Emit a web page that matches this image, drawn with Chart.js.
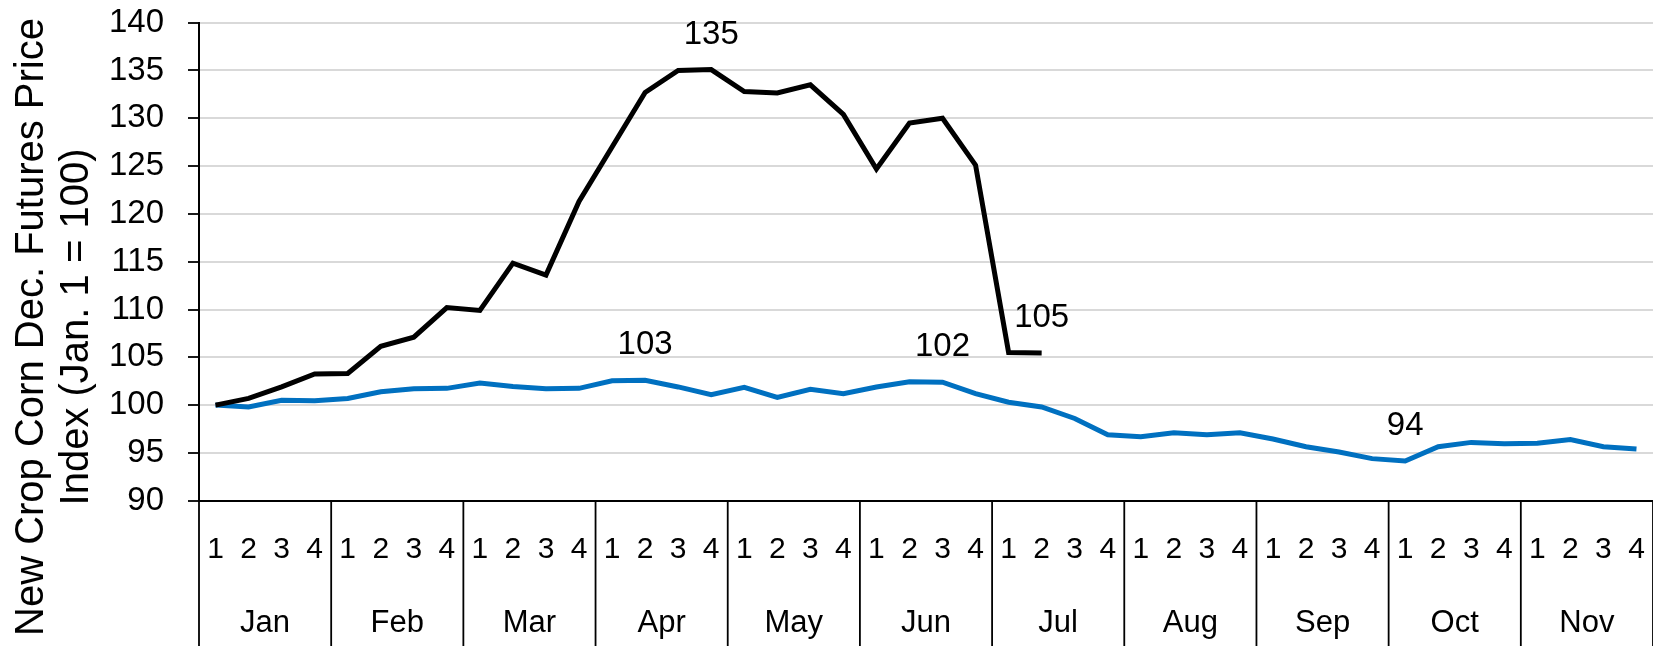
<!DOCTYPE html>
<html>
<head>
<meta charset="utf-8">
<script src="https://cdn.jsdelivr.net/npm/chart.js@4.4.1/dist/chart.umd.min.js"></script>
<style>
  html, body { margin: 0; padding: 0; background: #fff; }
  #wrap { width: 1653px; height: 646px; }
</style>
</head>
<body>
<div id="wrap"><canvas id="chart" width="1653" height="646"></canvas></div>
<script>
// Months shown on the outer axis row, each split into 4 weeks
const months = ['Jan', 'Feb', 'Mar', 'Apr', 'May', 'Jun', 'Jul', 'Aug', 'Sep', 'Oct', 'Nov'];
const weeks = ['1', '2', '3', '4'];

// Black series stops after Jul week 2
const blackLine = [
  100.0, 100.7, 101.9, 103.25,
  103.3, 106.15, 107.1, 110.2,
  109.9, 114.85, 113.6, 121.3,
  127.0, 132.7, 135.0, 135.1,
  132.8, 132.65, 133.5, 130.4,
  124.7, 129.5, 130.0, 125.1,
  105.5, 105.45,
  null, null, null, null, null, null, null, null, null,
  null, null, null, null, null, null, null, null, null
];

const blueLine = [
  100.0, 99.8, 100.5, 100.45,
  100.7, 101.4, 101.7, 101.75,
  102.3, 101.95, 101.7, 101.75,
  102.55, 102.6, 101.9, 101.1,
  101.85, 100.8, 101.65, 101.2,
  101.9, 102.45, 102.4, 101.2,
  100.3, 99.8, 98.6, 96.9,
  96.7, 97.1, 96.9, 97.1,
  96.45, 95.65, 95.1, 94.4,
  94.15, 95.65, 96.1, 95.95,
  96.0, 96.4, 95.65, 95.4
];

// which points get a value label
const blackLabelAt = [15, 25];
const blueLabelAt = [13, 22, 36];

const yTitle = ['New Crop Corn Dec. Futures Price', 'Index (Jan. 1 = 100)'];

const categories = [];
months.forEach(() => weeks.forEach(w => categories.push(w)));

const FONT = "'Liberation Sans', Arial, sans-serif";

// draws month row, separators, y title and value labels
const extrasPlugin = {
  id: 'extras',
  afterDatasetsDraw(chart) {
    const ctx = chart.ctx;
    ctx.save();
    ctx.fillStyle = '#000';
    ctx.font = '33px ' + FONT;
    ctx.textAlign = 'center';
    ctx.textBaseline = 'middle';
    const drawLabels = (dsIndex, list) => {
      const meta = chart.getDatasetMeta(dsIndex);
      list.forEach(i => {
        const pt = meta.data[i];
        const v = chart.data.datasets[dsIndex].data[i];
        ctx.fillText(String(Math.round(v)), pt.x, pt.y - 35);
      });
    };
    drawLabels(0, blackLabelAt);
    drawLabels(1, blueLabelAt);
    ctx.restore();
  },
  afterDraw(chart) {
    const ctx = chart.ctx;
    const x = chart.scales.x;
    const area = chart.chartArea;
    const half = (x.getPixelForValue(1) - x.getPixelForValue(0)) / 2;
    ctx.save();
    ctx.strokeStyle = '#000';
    ctx.lineWidth = 1.8;
    for (let k = 0; k <= months.length; k++) {
      const px = k === 0 ? area.left : x.getPixelForValue(k * 4 - 1) + half;
      ctx.beginPath();
      ctx.moveTo(px, area.bottom);
      ctx.lineTo(px, chart.height);
      ctx.stroke();
    }
    ctx.fillStyle = '#000';
    ctx.font = '31px ' + FONT;
    ctx.textAlign = 'center';
    ctx.textBaseline = 'middle';
    months.forEach((m, k) => {
      const cx = (x.getPixelForValue(k * 4 + 1) + x.getPixelForValue(k * 4 + 2)) / 2;
      ctx.fillText(m, cx, 623);
    });
    // y axis title, centred on the canvas height like the original
    ctx.font = '40px ' + FONT;
    yTitle.forEach((line, i) => {
      ctx.save();
      ctx.translate(32 + i * 45, chart.height / 2 + 4);
      ctx.rotate(-Math.PI / 2);
      ctx.fillText(line, 0, 0);
      ctx.restore();
    });
    ctx.restore();
  }
};

new Chart(document.getElementById('chart'), {
  type: 'line',
  data: {
    labels: categories,
    datasets: [
      {
        data: blackLine,
        borderColor: '#000000',
        borderWidth: 5,
        pointRadius: 0,
        tension: 0,
        spanGaps: false
      },
      {
        data: blueLine,
        borderColor: '#0070C0',
        borderWidth: 5,
        pointRadius: 0,
        tension: 0
      }
    ]
  },
  options: {
    responsive: false,
    animation: false,
    layout: { padding: { top: 22.7, right: 0, bottom: 0, left: 0 } },
    plugins: {
      legend: { display: false },
      tooltip: { enabled: false }
    },
    scales: {
      x: {
        offset: true,
        grid: { display: false, drawTicks: false },
        border: { display: true, color: '#000', width: 2 },
        ticks: {
          color: '#000',
          font: { family: FONT, size: 30 },
          padding: 31,
          maxRotation: 0,
          autoSkip: false
        },
        afterFit(scale) {
          scale.height = 145.3;
          scale.paddingLeft = 0;
          scale.paddingRight = 0;
        }
      },
      y: {
        min: 90,
        max: 140,
        grid: {
          color: '#d9d9d9',
          lineWidth: 2,
          tickColor: '#000',
          tickWidth: 1.8,
          tickLength: 11
        },
        border: { display: true, color: '#000', width: 2 },
        ticks: {
          stepSize: 5,
          color: '#000',
          padding: 24,
          font: { family: FONT, size: 33 }
        },
        afterFit(scale) {
          scale.width = 199;
          scale.paddingTop = 0;
          scale.paddingBottom = 0;
        }
      }
    }
  },
  plugins: [extrasPlugin]
});
</script>
</body>
</html>
